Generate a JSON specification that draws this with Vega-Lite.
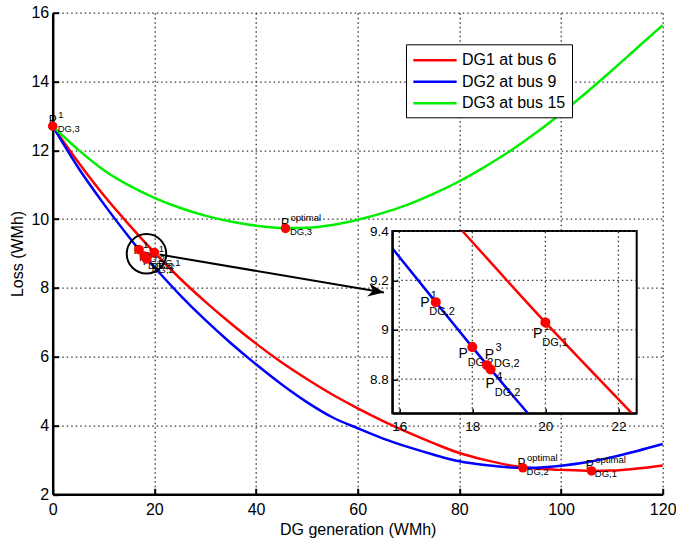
{
  "$schema": "https://vega.github.io/schema/vega-lite/v6.json",
  "width": 610,
  "height": 481.6,
  "autosize": {"type": "none"},
  "padding": {"left": 52.7, "top": 12.7, "right": 13.3, "bottom": 43.7},
  "background": "white",
  "config": {
    "view": {"stroke": null},
    "font": "Liberation Sans",
    "axis": {
      "labelFont": "Liberation Sans",
      "titleFont": "Liberation Sans",
      "labelColor": "black",
      "titleColor": "black",
      "titleFontWeight": "normal",
      "domainColor": "black",
      "tickColor": "black",
      "gridColor": "#333333",
      "gridDash": [1.5, 3],
      "gridWidth": 1.3,
      "gridOpacity": 1,
      "labelFlush": false,
      "labelOverlap": false
    },
    "legend": {
      "orient": "none",
      "legendX": 353.3,
      "legendY": 31.6,
      "labelFont": "Liberation Sans",
      "labelFontSize": 16,
      "labelColor": "black",
      "symbolType": "M-1,0H4",
      "symbolSize": 300,
      "symbolStrokeWidth": 2.5,
      "padding": 6,
      "rowPadding": 3.5,
      "labelOffset": 30,
      "strokeColor": "black",
      "fillColor": "white",
      "cornerRadius": 0
    }
  },
  "datasets": {
    "curves": [
      {"series": "DG1 at bus 6", "x": 0, "y": 12.7},
      {"series": "DG1 at bus 6", "x": 5, "y": 11.66},
      {"series": "DG1 at bus 6", "x": 10, "y": 10.7},
      {"series": "DG1 at bus 6", "x": 15, "y": 9.84},
      {"series": "DG1 at bus 6", "x": 20, "y": 9.03},
      {"series": "DG1 at bus 6", "x": 25, "y": 8.28},
      {"series": "DG1 at bus 6", "x": 30, "y": 7.6},
      {"series": "DG1 at bus 6", "x": 35, "y": 6.97},
      {"series": "DG1 at bus 6", "x": 40, "y": 6.38},
      {"series": "DG1 at bus 6", "x": 45, "y": 5.84},
      {"series": "DG1 at bus 6", "x": 50, "y": 5.35},
      {"series": "DG1 at bus 6", "x": 55, "y": 4.9},
      {"series": "DG1 at bus 6", "x": 60, "y": 4.5},
      {"series": "DG1 at bus 6", "x": 65, "y": 4.13},
      {"series": "DG1 at bus 6", "x": 70, "y": 3.79},
      {"series": "DG1 at bus 6", "x": 75, "y": 3.48},
      {"series": "DG1 at bus 6", "x": 80, "y": 3.2},
      {"series": "DG1 at bus 6", "x": 85, "y": 3.0},
      {"series": "DG1 at bus 6", "x": 90, "y": 2.84},
      {"series": "DG1 at bus 6", "x": 95, "y": 2.75},
      {"series": "DG1 at bus 6", "x": 100, "y": 2.71},
      {"series": "DG1 at bus 6", "x": 106, "y": 2.68},
      {"series": "DG1 at bus 6", "x": 110, "y": 2.69},
      {"series": "DG1 at bus 6", "x": 115, "y": 2.75},
      {"series": "DG1 at bus 6", "x": 120, "y": 2.84},
      {"series": "DG2 at bus 9", "x": 0, "y": 12.7},
      {"series": "DG2 at bus 9", "x": 5, "y": 11.5},
      {"series": "DG2 at bus 9", "x": 10, "y": 10.45},
      {"series": "DG2 at bus 9", "x": 15, "y": 9.48},
      {"series": "DG2 at bus 9", "x": 17, "y": 9.11},
      {"series": "DG2 at bus 9", "x": 18, "y": 8.93},
      {"series": "DG2 at bus 9", "x": 20, "y": 8.6},
      {"series": "DG2 at bus 9", "x": 25, "y": 7.8},
      {"series": "DG2 at bus 9", "x": 30, "y": 7.07},
      {"series": "DG2 at bus 9", "x": 35, "y": 6.4},
      {"series": "DG2 at bus 9", "x": 40, "y": 5.78},
      {"series": "DG2 at bus 9", "x": 45, "y": 5.2},
      {"series": "DG2 at bus 9", "x": 50, "y": 4.68},
      {"series": "DG2 at bus 9", "x": 55, "y": 4.24},
      {"series": "DG2 at bus 9", "x": 60, "y": 3.92},
      {"series": "DG2 at bus 9", "x": 65, "y": 3.62},
      {"series": "DG2 at bus 9", "x": 70, "y": 3.37},
      {"series": "DG2 at bus 9", "x": 75, "y": 3.15},
      {"series": "DG2 at bus 9", "x": 80, "y": 2.96},
      {"series": "DG2 at bus 9", "x": 85, "y": 2.85},
      {"series": "DG2 at bus 9", "x": 90, "y": 2.78},
      {"series": "DG2 at bus 9", "x": 92.5, "y": 2.77},
      {"series": "DG2 at bus 9", "x": 95, "y": 2.775},
      {"series": "DG2 at bus 9", "x": 100, "y": 2.83},
      {"series": "DG2 at bus 9", "x": 105, "y": 2.93},
      {"series": "DG2 at bus 9", "x": 110, "y": 3.08},
      {"series": "DG2 at bus 9", "x": 115, "y": 3.26},
      {"series": "DG2 at bus 9", "x": 120, "y": 3.46},
      {"series": "DG3 at bus 15", "x": 0, "y": 12.7},
      {"series": "DG3 at bus 15", "x": 5, "y": 12.02},
      {"series": "DG3 at bus 15", "x": 10, "y": 11.43},
      {"series": "DG3 at bus 15", "x": 15, "y": 10.98},
      {"series": "DG3 at bus 15", "x": 20, "y": 10.62},
      {"series": "DG3 at bus 15", "x": 25, "y": 10.33},
      {"series": "DG3 at bus 15", "x": 30, "y": 10.1},
      {"series": "DG3 at bus 15", "x": 35, "y": 9.93},
      {"series": "DG3 at bus 15", "x": 40, "y": 9.81},
      {"series": "DG3 at bus 15", "x": 45.8, "y": 9.74},
      {"series": "DG3 at bus 15", "x": 50, "y": 9.75},
      {"series": "DG3 at bus 15", "x": 55, "y": 9.83},
      {"series": "DG3 at bus 15", "x": 60, "y": 9.98},
      {"series": "DG3 at bus 15", "x": 65, "y": 10.18},
      {"series": "DG3 at bus 15", "x": 70, "y": 10.43},
      {"series": "DG3 at bus 15", "x": 75, "y": 10.74},
      {"series": "DG3 at bus 15", "x": 80, "y": 11.1},
      {"series": "DG3 at bus 15", "x": 85, "y": 11.52},
      {"series": "DG3 at bus 15", "x": 90, "y": 11.98},
      {"series": "DG3 at bus 15", "x": 95, "y": 12.5},
      {"series": "DG3 at bus 15", "x": 100, "y": 13.07},
      {"series": "DG3 at bus 15", "x": 105, "y": 13.68},
      {"series": "DG3 at bus 15", "x": 110, "y": 14.32},
      {"series": "DG3 at bus 15", "x": 115, "y": 14.98},
      {"series": "DG3 at bus 15", "x": 120, "y": 15.64}
    ],
    "insetCurves": [
      {"series": "DG1 at bus 6", "x": 17.73, "y": 9.4},
      {"series": "DG1 at bus 6", "x": 20, "y": 9.03},
      {"series": "DG1 at bus 6", "x": 22.37, "y": 8.662},
      {"series": "DG2 at bus 9", "x": 15.81, "y": 9.33},
      {"series": "DG2 at bus 9", "x": 17, "y": 9.112},
      {"series": "DG2 at bus 9", "x": 18, "y": 8.93},
      {"series": "DG2 at bus 9", "x": 19.52, "y": 8.662}
    ],
    "points": [
      {"x": 0, "y": 12.7, "scope": "main"},
      {"x": 45.8, "y": 9.73, "scope": "main"},
      {"x": 92.5, "y": 2.77, "scope": "main"},
      {"x": 106, "y": 2.68, "scope": "main"},
      {"x": 17, "y": 9.112, "scope": "both"},
      {"x": 18, "y": 8.93, "scope": "both"},
      {"x": 18.4, "y": 8.857, "scope": "both"},
      {"x": 18.5, "y": 8.839, "scope": "both"},
      {"x": 20, "y": 9.03, "scope": "both"}
    ],
    "labels": [
      {"lx": 0, "ly": 12.88, "sup": "1", "sub": "DG,3", "scope": "main"},
      {"lx": 45.68, "ly": 9.895, "sup": "optimal", "sub": "DG,3", "scope": "main"},
      {"lx": 92.23, "ly": 2.9, "sup": "optimal", "sub": "DG,2", "scope": "main"},
      {"lx": 105.66, "ly": 2.85, "sup": "optimal", "sub": "DG,1", "scope": "main"},
      {"lx": 16.7, "ly": 9.109, "sup": "1", "sub": "DG,2", "scope": "both"},
      {"lx": 19.79, "ly": 8.985, "sup": "1", "sub": "DG,1", "scope": "both"},
      {"lx": 17.75, "ly": 8.904, "sup": "2", "sub": "DG,2", "scope": "both"},
      {"lx": 18.47, "ly": 8.897, "sup": "3", "sub": "DG,2", "scope": "both"},
      {"lx": 18.49, "ly": 8.782, "sup": "4", "sub": "DG,2", "scope": "both"}
    ],
    "circle": [{"x": 18.45, "y": 8.99}],
    "arrow": [{"x": 21, "y": 8.97, "x2": 65.15, "y2": 7.866}],
    "insetGridX": [{"v": 16}, {"v": 18}, {"v": 20}, {"v": 22}],
    "insetGridY": [{"v": 8.8}, {"v": 9}, {"v": 9.2}, {"v": 9.4}]
  },
  "layer": [
    {
      "layer": [
        {
          "data": {"name": "curves"},
          "mark": {"type": "line", "strokeWidth": 2.5, "interpolate": "monotone"},
          "encoding": {
            "x": {
              "field": "x", "type": "quantitative",
              "scale": {"domain": [0, 120], "nice": false, "zero": false},
              "axis": {
                "values": [0, 20, 40, 60, 80, 100, 120],
                "grid": true,
                "title": "DG generation (WMh)",
                "titleFontSize": 16,
                "titlePadding": 4,
                "labelFontSize": 16,
                "labelPadding": 13,
                "tickSize": -6,
                "tickWidth": 2,
                "domainWidth": 2.5,
                "format": "d"
              }
            },
            "y": {
              "field": "y", "type": "quantitative",
              "scale": {"domain": [2, 16], "nice": false, "zero": false},
              "axis": {
                "values": [2, 4, 6, 8, 10, 12, 14, 16],
                "grid": true,
                "title": "Loss (WMh)",
                "titleFontSize": 16,
                "titlePadding": 5,
                "labelFontSize": 16,
                "labelPadding": 10,
                "tickSize": -6,
                "tickWidth": 2,
                "domainWidth": 2.5,
                "format": "d"
              }
            },
            "color": {
              "field": "series", "type": "nominal",
              "scale": {"domain": ["DG1 at bus 6", "DG2 at bus 9", "DG3 at bus 15"], "range": ["#ff0000", "#0000ff", "#00ee00"]},
              "legend": {"title": null}
            }
          }
        },
        {
          "data": {"name": "arrow"},
          "mark": {"type": "rule", "color": "black", "strokeWidth": 2},
          "encoding": {
            "x": {"field": "x", "type": "quantitative"},
            "y": {"field": "y", "type": "quantitative"},
            "x2": {"field": "x2"},
            "y2": {"field": "y2"}
          }
        },
        {
          "data": {"name": "arrow"},
          "mark": {"type": "point", "shape": "M0,0L-1,-0.42L-0.7,0L-1,0.42Z", "size": 1000, "angle": 9.7, "filled": true, "color": "black", "opacity": 1},
          "encoding": {
            "x": {"field": "x2", "type": "quantitative"},
            "y": {"field": "y2", "type": "quantitative"}
          }
        },
        {
          "data": {"name": "circle"},
          "mark": {"type": "point", "shape": "circle", "size": 1560, "filled": false, "stroke": "black", "strokeWidth": 2, "opacity": 1},
          "encoding": {
            "x": {"field": "x", "type": "quantitative"},
            "y": {"field": "y", "type": "quantitative"}
          }
        },
        {
          "data": {"name": "labels"},
          "mark": {"type": "text", "text": "P", "fontSize": 12, "align": "center", "baseline": "middle", "color": "black"},
          "encoding": {
            "x": {"field": "lx", "type": "quantitative"},
            "y": {"field": "ly", "type": "quantitative"}
          }
        },
        {
          "data": {"name": "labels"},
          "mark": {"type": "text", "fontSize": 9.5, "align": "left", "baseline": "middle", "dx": 5.5, "dy": -5, "color": "black"},
          "encoding": {
            "x": {"field": "lx", "type": "quantitative"},
            "y": {"field": "ly", "type": "quantitative"},
            "text": {"field": "sup"}
          }
        },
        {
          "data": {"name": "labels"},
          "mark": {"type": "text", "fontSize": 9.5, "align": "left", "baseline": "middle", "dx": 5, "dy": 9, "color": "black"},
          "encoding": {
            "x": {"field": "lx", "type": "quantitative"},
            "y": {"field": "ly", "type": "quantitative"},
            "text": {"field": "sub"}
          }
        },
        {
          "data": {"name": "points"},
          "mark": {"type": "point", "shape": "circle", "size": 90, "filled": true, "color": "#ff0000", "opacity": 1},
          "encoding": {
            "x": {"field": "x", "type": "quantitative"},
            "y": {"field": "y", "type": "quantitative"}
          }
        }
      ]
    },
    {
      "layer": [
        {
          "data": {"values": [{}]},
          "mark": {"type": "rect", "fill": "white", "stroke": "black", "strokeWidth": 2},
          "encoding": {
            "x": {
              "datum": 15.81, "type": "quantitative",
              "scale": {"domain": [15.81, 22.5], "range": [339.6, 584], "nice": false, "zero": false},
              "axis": {
                "orient": "bottom", "offset": -81, "values": [16, 18, 20, 22],
                "grid": false, "title": null, "labelFontSize": 13.5, "labelPadding": 11,
                "tickSize": -5, "tickWidth": 1.5, "domainWidth": 2, "zindex": 1, "format": "~g"
              }
            },
            "x2": {"datum": 22.5},
            "y": {
              "datum": 8.662, "type": "quantitative",
              "scale": {"domain": [8.662, 9.4], "range": [400.6, 218.3], "nice": false, "zero": false},
              "axis": {
                "orient": "left", "offset": -339.6, "values": [8.8, 9, 9.2, 9.4],
                "grid": false, "title": null, "labelFontSize": 13.5, "labelPadding": 9,
                "tickSize": -5, "tickWidth": 1.5, "domainWidth": 2, "zindex": 1, "format": "~g"
              }
            },
            "y2": {"datum": 9.4}
          }
        },
        {
          "data": {"name": "insetGridX"},
          "mark": {"type": "rule", "color": "#333333", "strokeWidth": 1.3, "strokeDash": [1.5, 3]},
          "encoding": {
            "x": {"field": "v", "type": "quantitative"},
            "y": {"datum": 8.662, "type": "quantitative"},
            "y2": {"datum": 9.4}
          }
        },
        {
          "data": {"name": "insetGridY"},
          "mark": {"type": "rule", "color": "#333333", "strokeWidth": 1.3, "strokeDash": [1.5, 3]},
          "encoding": {
            "y": {"field": "v", "type": "quantitative"},
            "x": {"datum": 15.81, "type": "quantitative"},
            "x2": {"datum": 22.5}
          }
        },
        {
          "data": {"name": "insetCurves"},
          "mark": {"type": "line", "strokeWidth": 2.5, "interpolate": "monotone"},
          "encoding": {
            "x": {"field": "x", "type": "quantitative"},
            "y": {"field": "y", "type": "quantitative"},
            "color": {"field": "series", "type": "nominal", "legend": null}
          }
        },
        {
          "data": {"name": "labels"},
          "transform": [{"filter": "datum.scope === 'both'"}],
          "mark": {"type": "text", "text": "P", "fontSize": 14, "align": "center", "baseline": "middle", "color": "black"},
          "encoding": {
            "x": {"field": "lx", "type": "quantitative"},
            "y": {"field": "ly", "type": "quantitative"}
          }
        },
        {
          "data": {"name": "labels"},
          "transform": [{"filter": "datum.scope === 'both'"}],
          "mark": {"type": "text", "fontSize": 11, "align": "left", "baseline": "middle", "dx": 6, "dy": -7, "color": "black"},
          "encoding": {
            "x": {"field": "lx", "type": "quantitative"},
            "y": {"field": "ly", "type": "quantitative"},
            "text": {"field": "sup"}
          }
        },
        {
          "data": {"name": "labels"},
          "transform": [{"filter": "datum.scope === 'both'"}],
          "mark": {"type": "text", "fontSize": 11, "align": "left", "baseline": "middle", "dx": 4.5, "dy": 9, "color": "black"},
          "encoding": {
            "x": {"field": "lx", "type": "quantitative"},
            "y": {"field": "ly", "type": "quantitative"},
            "text": {"field": "sub"}
          }
        },
        {
          "data": {"name": "points"},
          "transform": [{"filter": "datum.scope === 'both'"}],
          "mark": {"type": "point", "shape": "circle", "size": 100, "filled": true, "color": "#ff0000", "opacity": 1},
          "encoding": {
            "x": {"field": "x", "type": "quantitative"},
            "y": {"field": "y", "type": "quantitative"}
          }
        }
      ]
    }
  ],
  "resolve": {"scale": {"x": "independent", "y": "independent"}}
}
